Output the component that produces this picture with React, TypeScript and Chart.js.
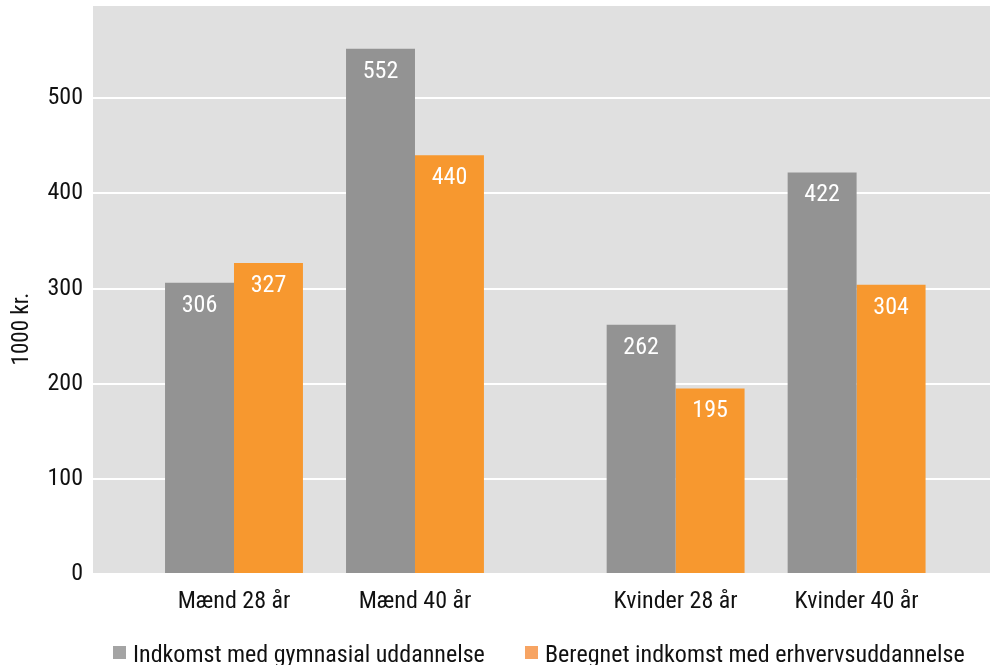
import React, { useEffect, useRef } from "react";
import { Chart, registerables } from "chart.js";

Chart.register(...registerables);

// ---- data ----
const categories = ["Mænd 28 år", "Mænd 40 år", "Kvinder 28 år", "Kvinder 40 år"];
const gymnasialValues = [306, 552, 262, 422];
const erhvervValues = [327, 440, 195, 304];
const seriesNames = [
  "Indkomst med gymnasial uddannelse",
  "Beregnet indkomst med erhvervsuddannelse",
];
const yTicks = [0, 100, 200, 300, 400, 500];
const yAxisTitle = "1000 kr.";
const yMax = 597;

// ---- layout (category slot positions on the x axis; gap between the two groups) ----
const slotPositions = [0, 1, 2.44, 3.44];

const GRAY = "#939393";
const ORANGE = "#f7982f";
const GRAY_LEG = "#a4a4a4";
const ORANGE_LEG = "#f7a463";
const BG = "#e0e0e0";

function pickFont(): { family: string; size: number } {
  const c = document.createElement("canvas").getContext("2d")!;
  const sample = seriesNames[0];
  const candidates = [
    "Roboto Condensed",
    "Noto Sans ExtraCondensed",
    "Noto Sans Condensed",
    "Open Sans Condensed",
    "Liberation Sans Narrow",
    "Noto Sans SemiCondensed",
    "DejaVu Sans Condensed",
  ];
  const widthWith = (f: string) => {
    c.font = `26px ${f}`;
    return c.measureText(sample).width;
  };
  const baseMono = widthWith("monospace");
  const baseSerif = widthWith("serif");
  let chosen = "'DejaVu Sans Condensed'";
  for (const cand of candidates) {
    const a = widthWith(`'${cand}', monospace`);
    const b = widthWith(`'${cand}', serif`);
    if (Math.abs(a - baseMono) > 0.5 || Math.abs(b - baseSerif) > 0.5) {
      chosen = `'${cand}'`;
      break;
    }
  }
  const w = widthWith(chosen);
  let size = 26 * (352 / w);
  size = Math.max(21, Math.min(26, size));
  return { family: `${chosen}, sans-serif`, size: Math.round(size * 2) / 2 };
}

export default function App() {
  const ref = useRef<HTMLCanvasElement | null>(null);

  useEffect(() => {
    document.body.style.margin = "0";
    const { family: FONT, size: FS } = pickFont();
    const canvas = ref.current!;
    const bgPlugin = {
      id: "bgPlugin",
      beforeDraw(chart: any) {
        const { ctx, chartArea } = chart;
        ctx.save();
        ctx.fillStyle = BG;
        ctx.fillRect(chartArea.left, chartArea.top, chartArea.right - chartArea.left, chartArea.bottom - chartArea.top);
        ctx.restore();
      },
    };
    const labelPlugin = {
      id: "labelPlugin",
      afterDatasetsDraw(chart: any) {
        const { ctx } = chart;
        ctx.save();
        ctx.font = `${FS}px ${FONT}`;
        ctx.fillStyle = "#ffffff";
        ctx.textAlign = "center";
        ctx.textBaseline = "middle";
        chart.data.datasets.forEach((ds: any, di: number) => {
          const meta = chart.getDatasetMeta(di);
          meta.data.forEach((bar: any, i: number) => {
            ctx.fillText(String(ds.data[i].y), bar.x, bar.y + 23);
          });
        });
        ctx.restore();
      },
    };
    const decorPlugin = {
      id: "decorPlugin",
      afterDraw(chart: any) {
        const { ctx } = chart;
        ctx.save();
        ctx.fillStyle = "#111111";
        ctx.font = `${FS - 1}px ${FONT}`;
        ctx.translate(22, 329);
        ctx.rotate(-Math.PI / 2);
        ctx.textAlign = "center";
        ctx.textBaseline = "middle";
        ctx.fillText(yAxisTitle, 0, 0);
        ctx.restore();
        ctx.save();
        ctx.font = `${FS}px ${FONT}`;
        ctx.textBaseline = "alphabetic";
        ctx.textAlign = "left";
        const colors = [GRAY_LEG, ORANGE_LEG];
        let x = 113;
        seriesNames.forEach((name, i) => {
          if (i === 1) x = Math.max(525, x);
          ctx.fillStyle = colors[i];
          ctx.fillRect(x, 646, 13, 13);
          ctx.fillStyle = "#111111";
          ctx.fillText(name, x + 20, 662);
          x = x + 20 + ctx.measureText(name).width + 40;
        });
        ctx.restore();
      },
    };

    const chart = new Chart(canvas, {
      type: "bar",
      data: {
        datasets: [
          {
            label: seriesNames[0],
            data: slotPositions.map((p, i) => ({ x: p, y: gymnasialValues[i] })),
            backgroundColor: GRAY,
            categoryPercentage: 0.762,
            barPercentage: 1,
          },
          {
            label: seriesNames[1],
            data: slotPositions.map((p, i) => ({ x: p, y: erhvervValues[i] })),
            backgroundColor: ORANGE,
            categoryPercentage: 0.762,
            barPercentage: 1,
          },
        ] as any,
      },
      options: {
        animation: false,
        responsive: false,
        layout: { padding: { top: 6, left: 0, right: 0, bottom: 0 } },
        plugins: { legend: { display: false }, tooltip: { enabled: false } },
        scales: {
          x: {
            type: "linear",
            min: -0.779,
            max: 4.177,
            offset: false,
            grid: { display: false, drawTicks: false },
            border: { display: false },
            afterBuildTicks: (scale: any) => {
              scale.ticks = slotPositions.map((v) => ({ value: v }));
            },
            afterFit: (scale: any) => {
              scale.height = 91;
              scale.paddingLeft = 0;
              scale.paddingRight = 0;
            },
            ticks: {
              autoSkip: false,
              maxRotation: 0,
              minRotation: 0,
              padding: 14,
              color: "#111111",
              font: { family: FONT, size: FS },
              callback: (value: any) => {
                let best = 0;
                slotPositions.forEach((p, i) => {
                  if (Math.abs(p - value) < Math.abs(slotPositions[best] - value)) best = i;
                });
                return categories[best];
              },
            },
          },
          y: {
            min: 0,
            max: yMax,
            afterBuildTicks: (scale: any) => {
              scale.ticks = yTicks.map((v) => ({ value: v }));
            },
            afterFit: (scale: any) => {
              scale.width = 93;
              scale.paddingTop = 0;
              scale.paddingBottom = 0;
            },
            grid: {
              drawTicks: false,
              color: "#ffffff",
              lineWidth: 2,
            },
            border: { display: false },
            ticks: {
              padding: 10,
              color: "#111111",
              font: { family: FONT, size: FS },
              callback: (v: any) => String(v),
            },
          },
        },
      } as any,
      plugins: [bgPlugin, labelPlugin, decorPlugin],
    });
    return () => chart.destroy();
  }, []);

  return (
    <div style={{ width: 990, height: 665 }}>
      <canvas ref={ref} width={990} height={665} style={{ display: "block" }} />
    </div>
  );
}
